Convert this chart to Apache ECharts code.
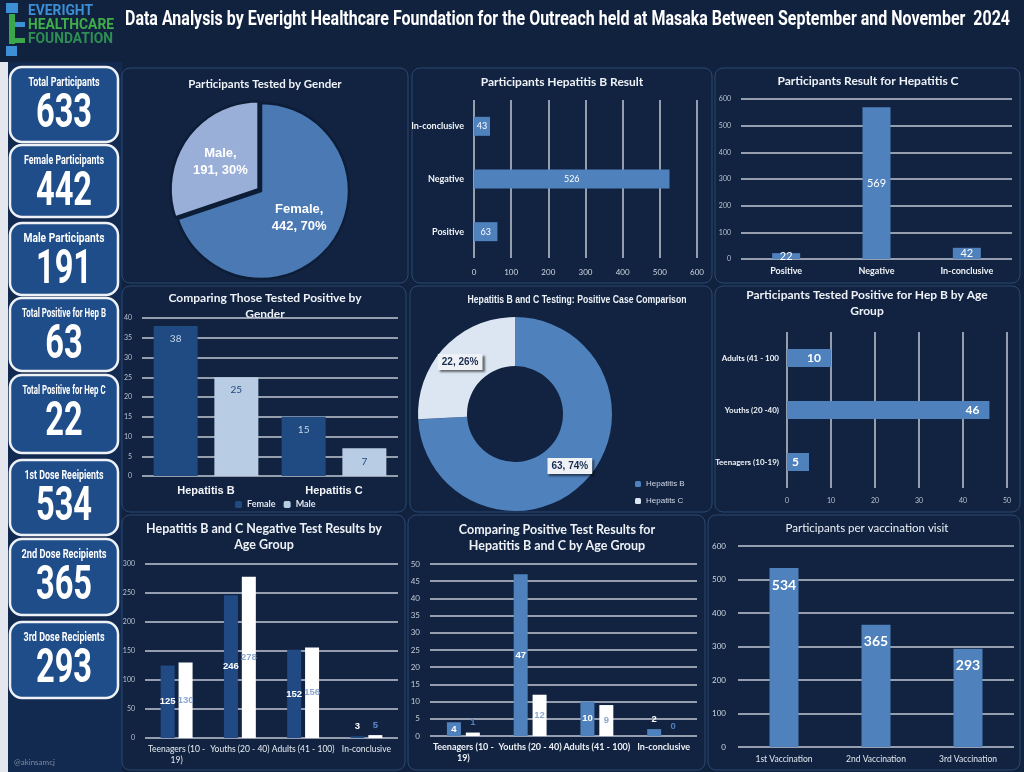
<!DOCTYPE html>
<html><head><meta charset="utf-8">
<script src="https://cdn.jsdelivr.net/npm/echarts@6/dist/echarts.min.js"></script>
<style>html,body{margin:0;padding:0;background:#11223f;overflow:hidden}#c{width:1024px;height:772px}</style>
</head><body><div id="c"></div>
<script>
// ---------- data ----------
const headerTitle = 'Data Analysis by Everight Healthcare Foundation for the Outreach held at Masaka Between September and November  2024';
const cardLabels = ['Total Participants','Female Participants','Male Participants','Total Positive for Hep B','Total Positive for Hep C','1st Dose Reeipients','2nd Dose Recipients','3rd Dose Recipients'];
const cardValues = [633,442,191,63,22,534,365,293];
const genderNames = ['Female','Male'];
const genderValues = [442,191];
const resultCats = ['Positive','Negative','In-conclusive'];
const hepBResult = [63,526,43];
const hepCResult = [22,569,42];
const positiveGenderCats = ['Hepatitis B','Hepatitis C'];
const positiveFemale = [38,15];
const positiveMale = [25,7];
const positiveCaseNames = ['Hepatitis B','Hepatits C'];
const positiveCaseValues = [63,22];
const hepBAgeCats = ['Teenagers (10-19)','Youths (20 -40)','Adults (41 - 100'];
const hepBAgeValues = [5,46,10];
const ageCats = ['Teenagers (10 - 19)','Youths (20 - 40)','Adults (41 - 100)','In-conclusive'];
const negHepB = [125,246,152,3];
const negHepC = [130,278,156,5];
const posHepB = [4,47,10,2];
const posHepC = [1,12,9,0];
const visitCats = ['1st Vaccination','2nd Vaccination','3rd Vaccination'];
const visitValues = [534,365,293];
const panelTitles = ['Participants Tested by Gender','Participants Hepatitis B Result','Participants Result for Hepatitis C',
  'Comparing Those Tested Positive by\nGender','Hepatitis B and C Testing: Positive Case Comparison','Participants Tested Positive for Hep B by Age\nGroup',
  'Hepatitis B and C Negative Test Results by\nAge Group','Comparing Positive Test Results for\nHepatitis B and C by Age Group','Participants per vaccination visit'];

// ---------- layout ----------
const chart = echarts.init(document.getElementById('c'));
const BG = '#11223f';
const mctx = document.createElement('canvas').getContext('2d');
function fitScale(text, font, target){ mctx.font = font; return target / mctx.measureText(text).width; }
function narrowText(text, x, y, font, target, fill, align){
  const s = fitScale(text, font, target);
  return {type:'text', x:x, y:y, scaleX:s, style:{text:text, fill:fill, font:font, align:align||'left', verticalAlign:'middle'}};
}
const panels = [[122,68,286,215],[412,68,300,215],[715,68,305,215],[122,286,284,226],[410,286,302,226],[715,286,305,226],[122,515,283,255],[408,515,297,255],[708,515,312,255]];
const titlePos = [[265,84,11.5,'bold'],[562,82,12,'bold'],[868,81,12,'bold'],[265,306,12,'bold'],null,[867,303,12,'bold'],[264,537,12.5,'bold'],[557,538,12.5,'bold'],[867,528,11.5,'normal']];
const cardBoxes = [[67,75],[145,72],[223,72],[298,73],[375,78],[460,75],[539,76],[622,76]];
const cardTitleWidth = [71,80,81,84,83,79,85,81];

const graphics = [];
graphics.push({type:'rect', z:-5, shape:{x:0,y:62,width:8,height:710}, style:{fill:'#e4e8ee'}});
graphics.push({type:'rect', z:-5, shape:{x:8,y:62,width:114,height:710}, style:{fill:'#132a50'}});
panels.forEach(p=>graphics.push({type:'rect', z:-4, shape:{x:p[0],y:p[1],width:p[2],height:p[3],r:8}, style:{fill:'#112341',stroke:'#2b4870',lineWidth:1}}));
// logo
[[6,3,12,10,'#3d8fd6'],[9,14,6,30,'#3aa84a'],[15,22,10,5,'#3d8fd6'],[15,38,10,5,'#3aa84a'],[6,46,11,10,'#3d8fd6']].forEach(r=>graphics.push({type:'rect',shape:{x:r[0],y:r[1],width:r[2],height:r[3]},style:{fill:r[4]}}));
const logoFont = 'bold 14px Roboto';
const logoScale = fitScale('HEALTHCARE', logoFont, 86);
[['EVERIGHT',11,'#3c8fd4'],['HEALTHCARE',25,'#3fae49'],['FOUNDATION',39,'#2e8f55']].forEach(t=>graphics.push({type:'text',x:28,y:t[1],scaleX:logoScale,style:{text:t[0],fill:t[2],font:logoFont,verticalAlign:'middle'}}));
graphics.push(narrowText(headerTitle,125,20,'bold 20px Roboto',885,'#ffffff'));
graphics.push({type:'text',x:14,y:762,style:{text:'@akinsamcj',fill:'#7d8aa0',font:'8px Lato',verticalAlign:'middle'}});
// cards
cardBoxes.forEach((b,i)=>{
  graphics.push({type:'rect',shape:{x:10,y:b[0],width:108,height:b[1],r:12},style:{fill:'#1f4d89',stroke:'#eef1f5',lineWidth:2.5}});
  graphics.push(narrowText(cardLabels[i],64,b[0]+16,'bold 12px Roboto',cardTitleWidth[i],'#ffffff','center'));
  graphics.push({type:'text',x:64,y:b[0]+48,scaleX:0.68,style:{text:String(cardValues[i]),fill:'#fff',font:'bold 48px Roboto',align:'center',verticalAlign:'middle'}});
});
// panel titles
panelTitles.forEach((t,i)=>{const p=titlePos[i];
  if(!p){ graphics.push(narrowText(t,577,300,'bold 11px "Liberation Sans"',219,'#eef2f7','center')); return; }
  graphics.push({type:'text',x:p[0],y:p[1],style:{text:t,fill:'#eef2f7',font:p[3]+' '+p[2]+'px Lato',align:'center',verticalAlign:'middle',lineHeight:16}});
});

const grids = [
  {left:474,top:100,width:223,height:158},
  {left:741,top:99,width:271,height:160},
  {left:142,top:318,width:256,height:158},
  {left:787,top:332,width:220,height:156},
  {left:145,top:564,width:253,height:174},
  {left:430,top:564,width:267,height:172},
  {left:738,top:546,width:276,height:201}
];
function valAxis(g,max,interval,extra){
  return Object.assign({type:'value',gridIndex:g,min:0,max:max,interval:interval,
    splitLine:{show:true,lineStyle:{color:'#c0c8d5',width:1.5}},axisLine:{show:false},axisTick:{show:false},
    axisLabel:{color:'#c3ccd8',fontSize:7.5,fontFamily:'Lato',margin:8}},extra||{});
}
function catAxis(g,data,extra){
  return Object.assign({type:'category',gridIndex:g,data:data,axisLine:{show:false},axisTick:{show:false},
    axisLabel:{color:'#f0f3f7',fontSize:9,fontFamily:'Lato',fontWeight:'bold',interval:0,margin:8}},extra||{});
}
const xAxes = [
  valAxis(0,600,100,{axisLabel:{color:'#d0d7e1',fontSize:8,fontFamily:'Lato',margin:10}}),
  catAxis(1,resultCats,{axisLabel:{color:'#f0f3f7',fontSize:9,fontFamily:'Lato',fontWeight:'bold',interval:0,margin:8}}),
  catAxis(2,positiveGenderCats,{axisLabel:{color:'#f4f6f9',fontSize:11,fontFamily:'Liberation Sans',fontWeight:'bold',interval:0,margin:9}}),
  valAxis(3,50,10,{axisLabel:{color:'#b8c2cf',fontSize:7,fontFamily:'Lato',margin:9}}),
  catAxis(4,ageCats,{axisLabel:{color:'#e8edf3',fontSize:8.5,fontFamily:'Lato',interval:0,margin:6,lineHeight:11,formatter:v=>v.replace('(10 - 19)','(10 -\n19)')}}),
  catAxis(5,ageCats,{axisLabel:{color:'#eef2f7',fontSize:9,fontFamily:'Lato',fontWeight:'bold',interval:0,margin:6,lineHeight:11,formatter:v=>v.replace('(10 - 19)','(10 -\n19)')}}),
  catAxis(6,visitCats,{axisLabel:{color:'#e2e8f0',fontSize:8.5,fontFamily:'Lato',interval:0,margin:8}})
];
const yAxes = [
  catAxis(0,resultCats,{axisLabel:{color:'#f0f3f7',fontSize:9,fontFamily:'Lato',fontWeight:'bold',margin:10}}),
  valAxis(1,600,100,{axisLabel:{color:'#b8c2cf',fontSize:7,fontFamily:'Lato',margin:10}}),
  valAxis(2,40,5,{axisLabel:{color:'#b8c2cf',fontSize:7,fontFamily:'Lato',margin:10}}),
  catAxis(3,hepBAgeCats,{axisLabel:{color:'#f0f3f7',fontSize:8,fontFamily:'Lato',fontWeight:'bold',margin:8}}),
  valAxis(4,300,50,{axisLabel:{color:'#b8c2cf',fontSize:7,fontFamily:'Lato',margin:10}}),
  valAxis(5,50,5,{axisLabel:{color:'#c3ccd8',fontSize:8,fontFamily:'Lato',margin:10}}),
  valAxis(6,600,100,{axisLabel:{color:'#d0d7e1',fontSize:8,fontFamily:'Lato',margin:12}})
];
const MID = '#4f81bd', DARK = '#214a84';
function smallTop(arr,lim,col){return arr.map(v=>v<lim?{value:v,label:{position:'top',color:col}}:v);}
const smallLbl = {fontSize:9.5,fontWeight:'bold',fontFamily:'Liberation Sans'};
const series = [
  {type:'pie',center:[261,191],radius:[0,88],startAngle:90,percentPrecision:0,selectedMode:'single',selectedOffset:3,silent:true,
    data:genderNames.map((n,i)=>({name:n,value:genderValues[i],selected:i===1,itemStyle:{color:i===0?'#4a79b4':'#9aafd8'}})),
    label:{show:true,position:'inside',formatter:'{b},\n{c}, {d}%',color:'#fff',fontFamily:'Liberation Sans',fontWeight:'bold',fontSize:13,lineHeight:17},
    labelLine:{show:false},itemStyle:{borderColor:'#0d1d36',borderWidth:2.5}},
  {type:'bar',xAxisIndex:0,yAxisIndex:0,data:hepBResult,barWidth:19,itemStyle:{color:MID},
    label:{show:true,position:'inside',color:'#fff',fontSize:9,fontFamily:'Lato'}},
  {type:'bar',xAxisIndex:1,yAxisIndex:1,data:hepCResult,barWidth:28,itemStyle:{color:MID},
    label:{show:true,position:'inside',color:'#fff',fontSize:11,fontFamily:'Lato'}},
  {type:'bar',name:'Female',xAxisIndex:2,yAxisIndex:2,data:positiveFemale,barWidth:44,barGap:'38%',itemStyle:{color:'#1f4a82'},
    label:{show:true,position:'insideTop',distance:8,color:'#c9d6ea',fontSize:10,fontFamily:'Lato'}},
  {type:'bar',name:'Male',xAxisIndex:2,yAxisIndex:2,data:positiveMale,barWidth:44,itemStyle:{color:'#b8cce4'},
    label:{show:true,position:'insideTop',distance:8,color:'#24477a',fontSize:10,fontFamily:'Lato'}},
  {type:'pie',center:[515,414],radius:[48,97],startAngle:90,percentPrecision:0,silent:true,
    data:positiveCaseNames.map((n,i)=>({name:n,value:positiveCaseValues[i],itemStyle:{color:i===0?MID:'#dce6f2'}})),
    label:{show:true,position:'inside',formatter:'{c}, {d}%',color:'#1a2d4f',fontFamily:'Liberation Sans',fontWeight:'bold',fontSize:10,
      backgroundColor:'#eef2f7',padding:[3,4],shadowColor:'rgba(0,0,0,0.55)',shadowOffsetX:2,shadowOffsetY:2,shadowBlur:2},
    labelLine:{show:false}},
  {type:'bar',xAxisIndex:3,yAxisIndex:3,data:hepBAgeValues,barWidth:18,itemStyle:{color:MID},
    label:{show:true,position:'insideRight',distance:10,color:'#fff',fontSize:12,fontWeight:'bold',fontFamily:'Lato'}},
  {type:'bar',name:'Negative Hep B',xAxisIndex:4,yAxisIndex:4,data:smallTop(negHepB,10,'#ffffff'),barWidth:14,barGap:'28%',itemStyle:{color:DARK},
    label:Object.assign({show:true,position:'inside',color:'#fff'},smallLbl)},
  {type:'bar',name:'Negative Hep C',xAxisIndex:4,yAxisIndex:4,data:smallTop(negHepC,10,'#5b8ad0'),barWidth:14,itemStyle:{color:'#ffffff'},
    label:Object.assign({show:true,position:'inside',color:'#8ea7cc'},smallLbl)},
  {type:'bar',name:'Positive Hep B',xAxisIndex:5,yAxisIndex:5,data:smallTop(posHepB,3,'#ffffff'),barWidth:14,barGap:'35%',itemStyle:{color:MID},
    label:Object.assign({show:true,position:'inside',color:'#fff'},smallLbl)},
  {type:'bar',name:'Positive Hep C',xAxisIndex:5,yAxisIndex:5,data:smallTop(posHepC,3,'#4f81bd'),barWidth:14,itemStyle:{color:'#ffffff'},
    label:Object.assign({show:true,position:'inside',color:'#8ea7cc'},smallLbl)},
  {type:'bar',xAxisIndex:6,yAxisIndex:6,data:visitValues,barWidth:29,itemStyle:{color:MID},
    label:{show:true,position:'insideTop',distance:10,color:'#fff',fontSize:14,fontWeight:'bold',fontFamily:'Lato'}}
];
chart.setOption({
  backgroundColor:BG,
  animation:false,
  graphic:{elements:graphics},
  grid:grids,
  xAxis:xAxes,
  yAxis:yAxes,
  legend:[
    {data:[{name:'Female',itemStyle:{color:'#1f4a82'}},{name:'Male',itemStyle:{color:'#b8cce4'}}],left:230,top:495,itemWidth:7,itemHeight:7,itemGap:8,selectedMode:false,
      textStyle:{color:'#dfe6ef',fontSize:9,fontWeight:'bold',fontFamily:'Lato'}},
    {data:positiveCaseNames,orient:'vertical',left:630,top:475,itemWidth:6,itemHeight:6,itemGap:9,selectedMode:false,
      textStyle:{color:'#d0d8e4',fontSize:8,fontFamily:'Liberation Sans'}}
  ],
  series:series
});
</script></body></html>
